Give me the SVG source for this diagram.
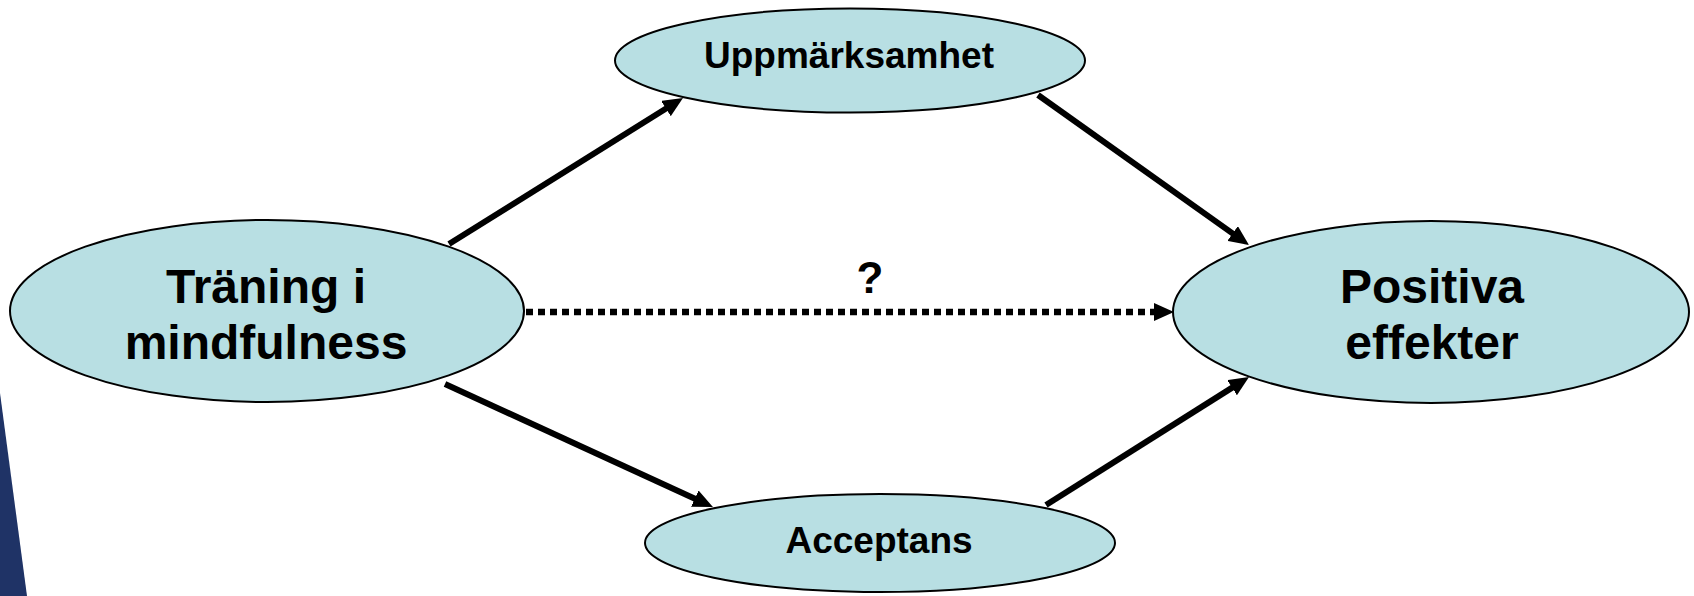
<svg xmlns="http://www.w3.org/2000/svg" width="1694" height="596" viewBox="0 0 1694 596">
<style>
.node ellipse{fill:#b8dfe3;stroke:#000;stroke-width:2}
.big{font-family:"Liberation Sans",Arial,sans-serif;font-weight:bold;font-size:48px;fill:#000;text-anchor:middle}
.small{font-family:"Liberation Sans",Arial,sans-serif;font-weight:bold;font-size:37px;fill:#000;text-anchor:middle}
.conn{fill:none;stroke:#000;stroke-width:6}
.dot{stroke-dasharray:7 5;stroke-width:6.5}
</style>
<defs>
<marker id="ah" viewBox="0 0 20 18" refX="2" refY="9" markerWidth="20" markerHeight="18" markerUnits="userSpaceOnUse" orient="auto">
<path d="M0,0 L20,9 L0,18 z" fill="#000"/>
</marker>
</defs>
<rect width="1694" height="596" fill="#fff"/>
<polygon points="0,393 27,596 0,596" fill="#1f3366"/>
<g id="connectors">
<path class="conn" d="M449,244 L667.7,107.5" marker-end="url(#ah)"/>
<path class="conn" d="M1038,95 L1234.3,234.6" marker-end="url(#ah)"/>
<path class="conn" d="M445,384 L696.6,499.5" marker-end="url(#ah)"/>
<path class="conn" d="M1046,505 L1233.8,386.6" marker-end="url(#ah)"/>
<path class="conn dot" d="M526,312 L1156,312" marker-end="url(#ah)"/>
<text class="big" x="870" y="293" style="font-size:44px">?</text>
</g>
<g id="n-traning" class="node">
<ellipse cx="267" cy="311" rx="257" ry="91"/>
<text class="big" x="266" y="303">Träning i</text>
<text class="big" x="266" y="359">mindfulness</text>
</g>
<g id="n-uppmarksamhet" class="node">
<ellipse cx="850" cy="60.5" rx="235" ry="52"/>
<text class="small" x="849" y="68">Uppmärksamhet</text>
</g>
<g id="n-acceptans" class="node">
<ellipse cx="880" cy="543" rx="235" ry="49"/>
<text class="small" x="879" y="553">Acceptans</text>
</g>
<g id="n-positiva" class="node">
<ellipse cx="1431" cy="312" rx="258" ry="91"/>
<text class="big" x="1432" y="303">Positiva</text>
<text class="big" x="1432" y="359">effekter</text>
</g>
</svg>
